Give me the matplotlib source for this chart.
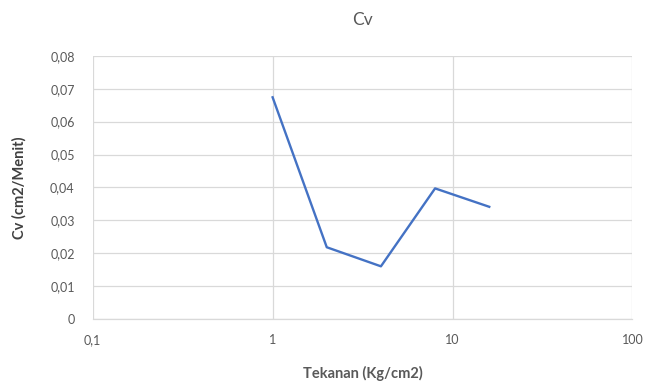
import matplotlib
matplotlib.use("Agg")
import matplotlib.pyplot as plt
from matplotlib.ticker import FixedLocator, NullLocator

plt.rcParams['font.family'] = ['Lato', 'DejaVu Sans']

pressure = [1, 2, 4, 8, 16]
cv = [0.0674, 0.0218, 0.0160, 0.0397, 0.0341]
x_ticks = [0.1, 1, 10, 100]
x_tick_labels = ['0,1', '1', '10', '100']
y_ticks = [0, 0.01, 0.02, 0.03, 0.04, 0.05, 0.06, 0.07, 0.08]
y_tick_labels = ['0', '0,01', '0,02', '0,03', '0,04', '0,05', '0,06', '0,07', '0,08']

fig = plt.figure(figsize=(6.46, 3.88), dpi=100)
ax = fig.add_axes([0.1435, 0.178, 0.8355, 0.678])

ax.plot(pressure, cv, color='#4472C4', linewidth=1.7, solid_joinstyle='round', zorder=3)
ax.set_xscale('log')
ax.set_xlim(0.1, 100)
ax.set_ylim(0, 0.08)
ax.xaxis.set_major_locator(FixedLocator(x_ticks))
ax.xaxis.set_minor_locator(NullLocator())
ax.set_xticklabels(x_tick_labels)
ax.set_yticks(y_ticks)
ax.set_yticklabels(y_tick_labels)

ax.grid(True, color='#D9D9D9', linewidth=0.9)
ax.set_axisbelow(True)
for s in ['top', 'right', 'left']:
    ax.spines[s].set_visible(False)
ax.spines['bottom'].set_color('#D9D9D9')
ax.spines['bottom'].set_linewidth(0.9)
ax.tick_params(axis='both', length=0, labelsize=9, labelcolor='#595959')
ax.tick_params(axis='y', pad=13)
ax.tick_params(axis='x', pad=11)

ax.set_title('Cv', fontsize=12.5, color='#595959', pad=22)
ax.set_xlabel('Tekanan (Kg/cm2)', fontsize=10.5, color='#595959', fontweight='bold', labelpad=14)
ax.set_ylabel('Cv (cm2/Menit)', fontsize=10.5, color='#404040', fontweight='bold', labelpad=17)

fig.savefig('out.png', dpi=100, facecolor='white')
